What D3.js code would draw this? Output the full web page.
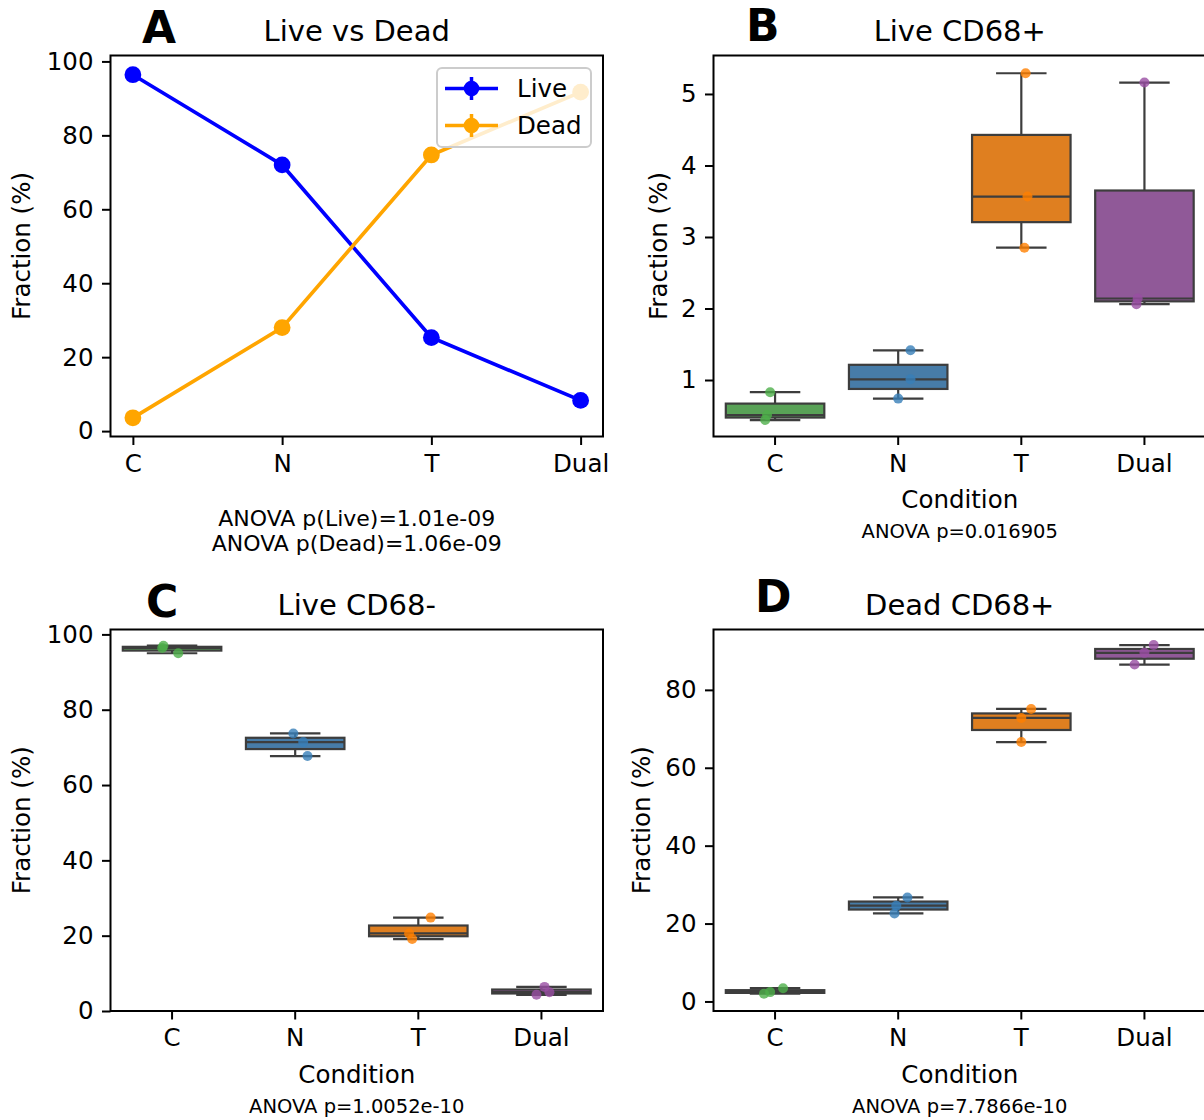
<!DOCTYPE html>
<html>
<head>
<meta charset="utf-8">
<script src="https://cdn.jsdelivr.net/npm/d3@7"></script>
<style>
  body { margin: 0; background: #ffffff; }
  svg { display: block; font-family: "DejaVu Sans", "Noto Sans", sans-serif; }
</style>
</head>
<body>
<svg id="fig" width="1204" height="1120"></svg>
<script>
// ---------------- data ----------------
const conditions = ["C", "N", "T", "Dual"];

// Panel A: mean fraction (%) of live / dead cells per condition, with SEM
const liveMean = [96.4, 72.0, 25.3, 8.3];
const liveSem  = [0.4, 1.6, 1.7, 0.5];
const deadMean = [3.6, 28.0, 74.7, 91.7];
const deadSem  = [0.4, 1.6, 1.7, 0.5];

// Panels B-D: replicate fractions (%), one inner array per condition
const liveCD68pos = [[0.44, 0.51, 0.83], [0.74, 1.01, 1.415], [2.85, 3.565, 5.29], [2.06, 2.14, 5.16]];
const liveCD68neg = [[95.0, 96.4, 97.0], [67.7, 71.4, 73.7], [19.1, 20.6, 24.8], [4.3, 5.0, 6.4]];
const deadCD68pos = [[2.0, 2.4, 3.4], [22.6, 24.6, 26.7], [66.6, 72.8, 75.1], [86.5, 89.5, 91.5]];

// tick values per panel
const ticksA = [0, 20, 40, 60, 80, 100];
const ticksB = [1, 2, 3, 4, 5];
const ticksC = [0, 20, 40, 60, 80, 100];
const ticksD = [0, 20, 40, 60, 80];

// statistics annotations
const anovaA = ["ANOVA p(Live)=1.01e-09", "ANOVA p(Dead)=1.06e-09"];
const anovaB = "ANOVA p=0.016905";
const anovaC = "ANOVA p=1.0052e-10";
const anovaD = "ANOVA p=7.7866e-10";

// ---------------- style ----------------
const svg = d3.select("#fig");
const TICK_FONT = 24.5, TITLE_FONT = 29, NOTE_FONT = 19.5, LETTER_FONT = 44;
const EDGE = "#3d3d3d";
// Set1 hues: raw for the replicate dots, desaturated for the box fills
const dotColor = { C: "#4daf4a", N: "#377eb8", T: "#ff7f00", Dual: "#984ea3" };
const boxColor = { C: "#59a257", N: "#477ca8", T: "#df7f20", Dual: "#905998" };
const LIVE = "#0000ff", DEAD = "#ffa500";

// small horizontal spread of the replicate dots (fraction of a category slot), sorted-value order
const spreadB = [[-0.08, -0.065, -0.04], [0, 0.1, 0.1], [0.025, 0.05, 0.035], [-0.065, -0.055, 0]];
const spreadC = [[0.05, -0.08, -0.07], [0.1, 0.065, -0.015], [-0.05, -0.075, 0.1], [-0.04, 0.065, 0.025]];
const spreadD = [[-0.09, -0.04, 0.065], [-0.03, -0.015, 0.075], [0, 0, 0.08], [-0.08, 0, 0.075]];

function frame(g, f) {
  g.append("rect")
    .attr("x", f.left).attr("y", f.top)
    .attr("width", f.right - f.left).attr("height", f.bottom - f.top)
    .attr("fill", "none").attr("stroke", "#000").attr("stroke-width", 2);
}

function styleAxis(sel) {
  sel.select(".domain").remove();
  sel.selectAll(".tick line").attr("stroke", "#000").attr("stroke-width", 2);
  sel.selectAll(".tick text").attr("fill", "#000").attr("font-size", TICK_FONT)
    .attr("font-family", "DejaVu Sans, sans-serif");
}

function axes(g, f, x, y, ticks) {
  g.append("g").attr("transform", `translate(${f.left},0)`)
    .call(d3.axisLeft(y).tickValues(ticks).tickSize(8.5).tickPadding(8.5).tickFormat(d3.format("d")))
    .call(styleAxis);
  g.append("g").attr("transform", `translate(0,${f.bottom})`)
    .call(d3.axisBottom(x).tickSize(8.5).tickPadding(9.5))
    .call(styleAxis);
}

function labels(g, f, o) {
  const cx = (f.left + f.right) / 2, cy = (f.top + f.bottom) / 2;
  g.append("text").attr("x", cx).attr("y", f.top - 14.5)
    .attr("text-anchor", "middle").attr("font-size", TITLE_FONT).text(o.title);
  g.append("text").attr("x", o.letterX).attr("y", o.letterY)
    .attr("font-size", LETTER_FONT).attr("font-weight", "bold").text(o.letter);
  g.append("text").attr("transform", `translate(${o.ylabX},${cy}) rotate(-90)`)
    .attr("text-anchor", "middle").attr("font-size", TICK_FONT).text("Fraction (%)");
  if (o.xlabel) {
    g.append("text").attr("x", cx).attr("y", f.bottom + 71.5)
      .attr("text-anchor", "middle").attr("font-size", TICK_FONT).text(o.xlabel);
  }
  o.notes.forEach((t, i) => {
    g.append("text").attr("x", cx).attr("y", o.noteY + i * o.noteStep)
      .attr("text-anchor", "middle").attr("font-size", o.noteFont).text(t);
  });
}

// ---------------- panel A: line plot with error bars ----------------
(function () {
  const f = { left: 110.5, right: 603, top: 55.5, bottom: 436.5 };
  const g = svg.append("g");
  const x = d3.scalePoint().domain(conditions).range([f.left, f.right]).padding(0.15);
  const y = d3.scaleLinear().domain([-1.46, 101.6]).range([f.bottom, f.top]);

  const series = [
    { name: "Live", mean: liveMean, sem: liveSem, color: LIVE },
    { name: "Dead", mean: deadMean, sem: deadSem, color: DEAD }
  ];
  const line = d3.line().x((d, i) => x(conditions[i])).y(d => y(d));

  series.forEach(s => {
    const sg = g.append("g");
    sg.append("path").attr("d", line(s.mean)).attr("fill", "none")
      .attr("stroke", s.color).attr("stroke-width", 3.7);
    sg.selectAll("line.err").data(s.mean).join("line").attr("class", "err")
      .attr("x1", (d, i) => x(conditions[i])).attr("x2", (d, i) => x(conditions[i]))
      .attr("y1", (d, i) => y(d - s.sem[i])).attr("y2", (d, i) => y(d + s.sem[i]))
      .attr("stroke", s.color).attr("stroke-width", 3.7);
    sg.selectAll("circle").data(s.mean).join("circle")
      .attr("cx", (d, i) => x(conditions[i])).attr("cy", d => y(d))
      .attr("r", 8.4).attr("fill", s.color);
  });

  // legend (semi-transparent box)
  const lg = g.append("g").attr("transform", "translate(437,68)");
  lg.append("rect").attr("width", 154).attr("height", 79).attr("rx", 5)
    .attr("fill", "#fff").attr("fill-opacity", 0.8)
    .attr("stroke", "#cccccc").attr("stroke-width", 2);
  series.forEach((s, i) => {
    const cy = 20.5 + i * 37;
    lg.append("line").attr("x1", 8).attr("x2", 61).attr("y1", cy).attr("y2", cy)
      .attr("stroke", s.color).attr("stroke-width", 3.5);
    lg.append("line").attr("x1", 34.5).attr("x2", 34.5).attr("y1", cy - 11.5).attr("y2", cy + 11.5)
      .attr("stroke", s.color).attr("stroke-width", 3.5);
    lg.append("circle").attr("cx", 34.5).attr("cy", cy).attr("r", 7.8).attr("fill", s.color);
    lg.append("text").attr("x", 80).attr("y", cy).attr("dy", "0.36em")
      .attr("font-size", TICK_FONT).text(s.name);
  });

  frame(g, f);
  axes(g, f, x, y, ticksA);
  labels(g, f, { title: "Live vs Dead", letter: "A", letterX: 142, letterY: 43,
    ylabX: 30, xlabel: null, notes: anovaA, noteY: 526, noteStep: 25, noteFont: 22 });
})();

// ---------------- panels B-D: box plots with replicate dots ----------------
function boxPanel(f, yDomain, data, spread, ticks, o) {
  const g = svg.append("g");
  const x = d3.scaleBand().domain(conditions).range([f.left, f.right]);
  const y = d3.scaleLinear().domain(yDomain).range([f.bottom, f.top]);
  const bw = x.bandwidth();

  conditions.forEach((c, i) => {
    const v = data[i].slice().sort(d3.ascending);
    const q1 = d3.quantile(v, 0.25), med = d3.quantile(v, 0.5), q3 = d3.quantile(v, 0.75);
    const iqr = q3 - q1;
    const lo = d3.min(v.filter(d => d >= q1 - 1.5 * iqr));
    const hi = d3.max(v.filter(d => d <= q3 + 1.5 * iqr));
    const cx = x(c) + bw / 2, half = bw * 0.4, cap = bw * 0.205;
    const bg = g.append("g");
    bg.append("line").attr("x1", cx).attr("x2", cx).attr("y1", y(q3)).attr("y2", y(hi))
      .attr("stroke", EDGE).attr("stroke-width", 2.2);
    bg.append("line").attr("x1", cx).attr("x2", cx).attr("y1", y(q1)).attr("y2", y(lo))
      .attr("stroke", EDGE).attr("stroke-width", 2.2);
    [lo, hi].forEach(w => bg.append("line")
      .attr("x1", cx - cap).attr("x2", cx + cap).attr("y1", y(w)).attr("y2", y(w))
      .attr("stroke", EDGE).attr("stroke-width", 2.2));
    bg.append("rect").attr("x", cx - half).attr("width", 2 * half)
      .attr("y", y(q3)).attr("height", y(q1) - y(q3))
      .attr("fill", boxColor[c]).attr("stroke", EDGE).attr("stroke-width", 2.2);
    bg.append("line").attr("x1", cx - half).attr("x2", cx + half).attr("y1", y(med)).attr("y2", y(med))
      .attr("stroke", EDGE).attr("stroke-width", 2.2);
  });

  conditions.forEach((c, i) => {
    const v = data[i].slice().sort(d3.ascending);
    g.append("g").selectAll("circle").data(v).join("circle")
      .attr("cx", (d, k) => x(c) + bw / 2 + spread[i][k] * bw)
      .attr("cy", d => y(d)).attr("r", 5)
      .attr("fill", dotColor[c]).attr("fill-opacity", 0.8);
  });

  frame(g, f);
  axes(g, f, x, y, ticks);
  labels(g, f, o);
}

boxPanel({ left: 713.5, right: 1206, top: 55.5, bottom: 436.5 }, [0.21, 5.538],
  liveCD68pos, spreadB, ticksB,
  { title: "Live CD68+", letter: "B", letterX: 746, letterY: 41, ylabX: 667,
    xlabel: "Condition", notes: [anovaB], noteY: 538, noteStep: 0, noteFont: NOTE_FONT });

boxPanel({ left: 110.5, right: 603, top: 629.5, bottom: 1011 }, [0, 101.3],
  liveCD68neg, spreadC, ticksC,
  { title: "Live CD68-", letter: "C", letterX: 146, letterY: 617, ylabX: 30,
    xlabel: "Condition", notes: [anovaC], noteY: 1112.5, noteStep: 0, noteFont: NOTE_FONT });

boxPanel({ left: 713.5, right: 1206, top: 629.5, bottom: 1011 }, [-2.45, 95.5],
  deadCD68pos, spreadD, ticksD,
  { title: "Dead CD68+", letter: "D", letterX: 755, letterY: 612, ylabX: 650,
    xlabel: "Condition", notes: [anovaD], noteY: 1112.5, noteStep: 0, noteFont: NOTE_FONT });
</script>
</body>
</html>
